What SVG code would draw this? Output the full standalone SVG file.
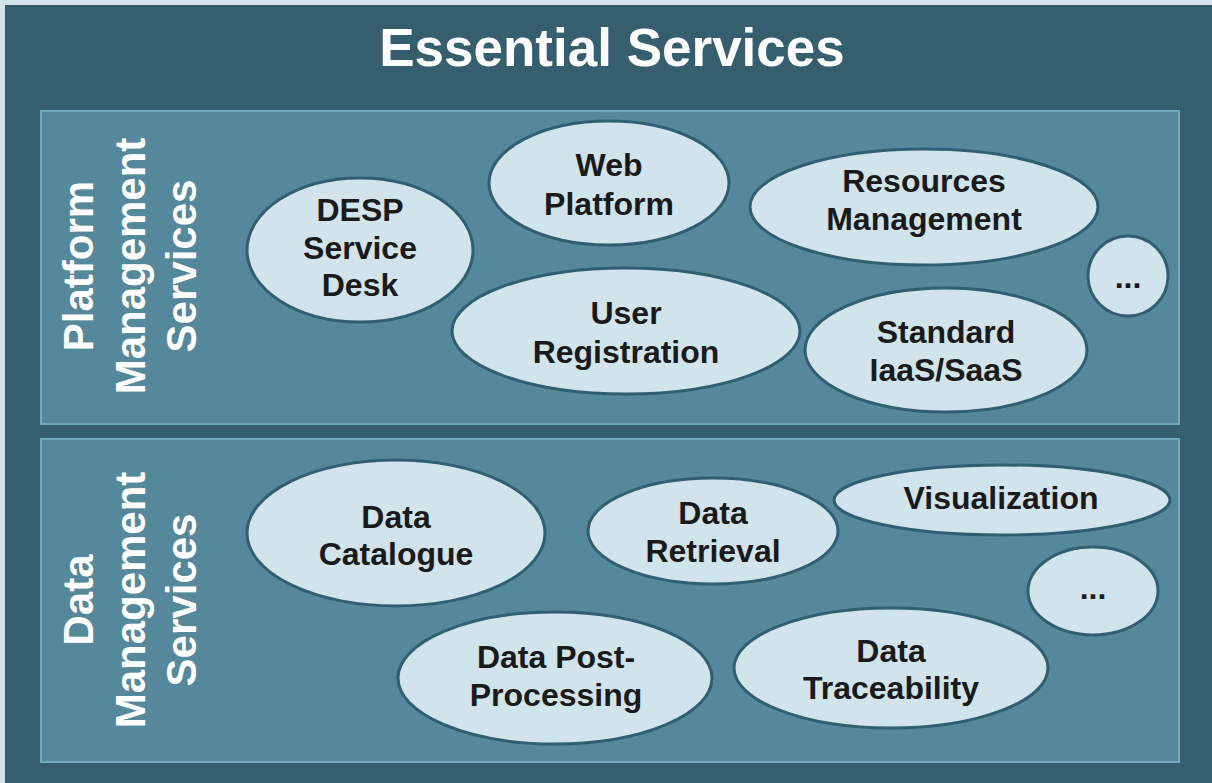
<svg xmlns="http://www.w3.org/2000/svg" width="1212" height="783" viewBox="0 0 1212 783">
<style>
.panel{fill:#56889b;stroke:#72a9bd;stroke-width:2}
.node ellipse{fill:#d1e3eb;stroke:#2f5f70;stroke-width:3}
.node text{font-family:"Liberation Sans",Arial,sans-serif;font-weight:bold;font-size:32px;fill:#1a1a1a;text-anchor:middle}
.vlabel{font-family:"Liberation Sans",Arial,sans-serif;font-weight:bold;font-size:42px;fill:#ffffff;text-anchor:middle}
.title{font-family:"Liberation Sans",Arial,sans-serif;font-weight:bold;font-size:53px;fill:#ffffff;text-anchor:middle}
</style>
<rect x="0" y="0" width="1212" height="783" fill="#d3e3ea"/>
<rect x="5" y="5" width="1207" height="778" fill="#355e6e"/>
<text class="title" x="612" y="66">Essential Services</text>

<g id="platform-panel">
<rect class="panel" x="41" y="111" width="1138" height="313"/>
<g transform="translate(0,266) rotate(-90)">
<text class="vlabel" x="0" y="93">Platform</text>
<text class="vlabel" x="0" y="145">Management</text>
<text class="vlabel" x="0" y="196">Services</text>
</g>
</g>

<g id="data-panel">
<rect class="panel" x="41" y="439" width="1138" height="323"/>
<g transform="translate(0,600) rotate(-90)">
<text class="vlabel" x="0" y="93">Data</text>
<text class="vlabel" x="0" y="145">Management</text>
<text class="vlabel" x="0" y="196">Services</text>
</g>
</g>

<g id="desp-service-desk" class="node">
<ellipse cx="360" cy="250" rx="113" ry="72"/>
<text x="360" y="221">DESP</text><text x="360" y="259">Service</text><text x="360" y="296">Desk</text>
</g>
<g id="web-platform" class="node">
<ellipse cx="609" cy="183" rx="120" ry="62"/>
<text x="609" y="176">Web</text><text x="609" y="215">Platform</text>
</g>
<g id="resources-management" class="node">
<ellipse cx="924" cy="207" rx="174" ry="58"/>
<text x="924" y="192">Resources</text><text x="924" y="230">Management</text>
</g>
<g id="platform-more" class="node">
<ellipse cx="1128" cy="276" rx="40" ry="40"/>
<text x="1128" y="288">...</text>
</g>
<g id="user-registration" class="node">
<ellipse cx="626" cy="331" rx="174" ry="63"/>
<text x="626" y="324">User</text><text x="626" y="363">Registration</text>
</g>
<g id="standard-iaas-saas" class="node">
<ellipse cx="946" cy="350" rx="141" ry="62"/>
<text x="946" y="343">Standard</text><text x="946" y="381">IaaS/SaaS</text>
</g>

<g id="data-catalogue" class="node">
<ellipse cx="396" cy="533" rx="149" ry="73"/>
<text x="396" y="528">Data</text><text x="396" y="565">Catalogue</text>
</g>
<g id="data-retrieval" class="node">
<ellipse cx="713" cy="531" rx="125" ry="53"/>
<text x="713" y="524">Data</text><text x="713" y="562">Retrieval</text>
</g>
<g id="visualization" class="node">
<ellipse cx="1002" cy="500" rx="168" ry="35"/>
<text x="1001" y="509">Visualization</text>
</g>
<g id="data-more" class="node">
<ellipse cx="1093" cy="591" rx="65" ry="44"/>
<text x="1093" y="599">...</text>
</g>
<g id="data-post-processing" class="node">
<ellipse cx="555" cy="678" rx="157" ry="66"/>
<text x="556" y="668">Data Post-</text><text x="556" y="706">Processing</text>
</g>
<g id="data-traceability" class="node">
<ellipse cx="891" cy="668" rx="157" ry="60"/>
<text x="891" y="662">Data</text><text x="891" y="699">Traceability</text>
</g>
<g id="connectors"/>
</svg>
